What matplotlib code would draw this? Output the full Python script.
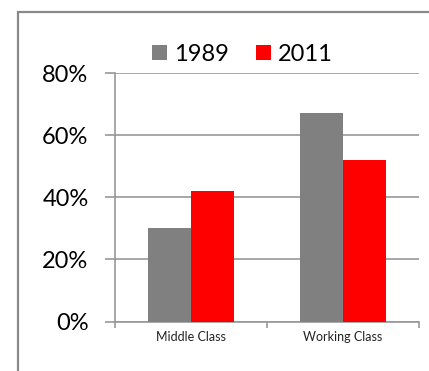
import numpy as np
import matplotlib.pyplot as plt
from matplotlib.patches import Rectangle
from matplotlib.ticker import FuncFormatter

plt.rcParams["font.family"] = ["Lato", "DejaVu Sans"]

categories = ["Middle Class", "Working Class"]
years = ["1989", "2011"]
values_1989 = [0.30, 0.67]
values_2011 = [0.42, 0.52]
colors = ["#808080", "#FF0000"]
grid_color = "#989898"

W, H = 429, 371
fig = plt.figure(figsize=(W / 100, H / 100), dpi=100)

# outer chart border (cut off at right/bottom like the reference)
fig.patches.append(
    Rectangle((18 / W, -0.5), 2.0, 1 - 12 / H + 0.5, transform=fig.transFigure,
              fill=False, edgecolor="#8a8a8a", linewidth=1.6)
)

ax = fig.add_axes([115 / W, 1 - 321.5 / H, 304 / W, (321.5 - 73) / H])

x = np.arange(len(categories))
bw = 0.285
ax.bar(x - bw / 2, values_1989, bw, color=colors[0], label=years[0], zorder=3)
ax.bar(x + bw / 2, values_2011, bw, color=colors[1], label=years[1], zorder=3)

ax.set_xlim(-0.5, 1.5)
ax.set_ylim(0, 0.8)
ax.set_yticks([0, 0.2, 0.4, 0.6, 0.8])
ax.yaxis.set_major_formatter(FuncFormatter(lambda v, p: f"{v * 100:.0f}%"))
ax.yaxis.grid(True, color=grid_color, linewidth=1.2, zorder=0)
ax.set_axisbelow(True)

ax.set_xticks(x)
ax.set_xticklabels(categories, fontsize=9, color="#222222")
ax.set_xticks([-0.5, 0.5, 1.5], minor=True)
ax.tick_params(axis="x", which="major", length=0, pad=7)
ax.tick_params(axis="x", which="minor", length=4, width=1.2, color=grid_color, direction="out")
ax.tick_params(axis="y", length=7, width=1.2, color=grid_color, labelsize=17, pad=12)

for side in ["top", "right"]:
    ax.spines[side].set_visible(False)
for side in ["left", "bottom"]:
    ax.spines[side].set_color(grid_color)
    ax.spines[side].set_linewidth(1.2)

ax.legend(loc="center", bbox_to_anchor=(0.42, 1.076), ncol=2, frameon=False,
          fontsize=17, handlelength=0.63, handleheight=0.63, handletextpad=0.3,
          columnspacing=1.15, borderaxespad=0)

fig.savefig("out.png", dpi=100)
